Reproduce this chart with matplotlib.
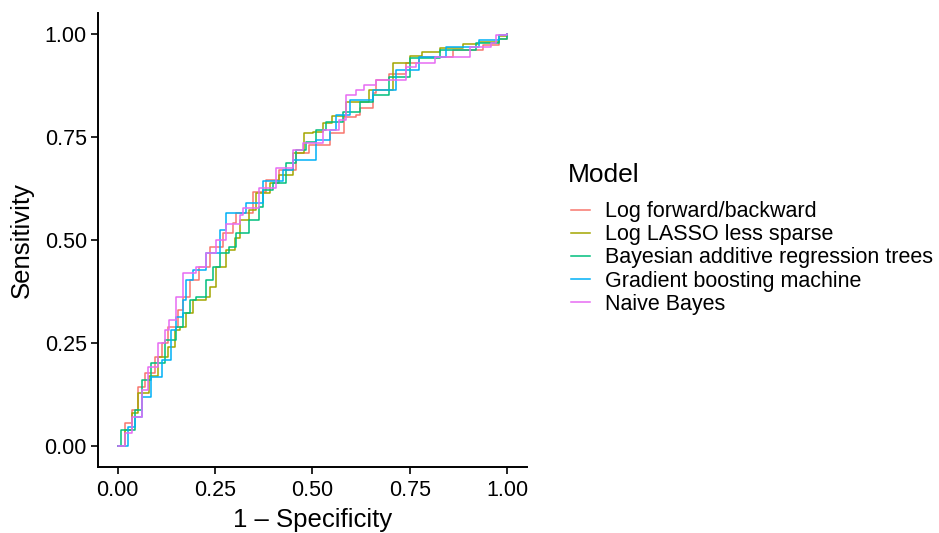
import matplotlib
matplotlib.use('Agg')
import matplotlib.pyplot as plt

plt.rcParams['font.family'] = ['Liberation Sans', 'DejaVu Sans']

# ROC curves: (1 - specificity, sensitivity)
models = ['Log forward/backward', 'Log LASSO less sparse',
          'Bayesian additive regression trees', 'Gradient boosting machine',
          'Naive Bayes']
colors = ['#F8766D', '#A3A500', '#00BF7D', '#00B0F6', '#E76BF3']

fpr_log_fb = [0, 0.019, 0.036, 0.053, 0.070, 0.096, 0.113, 0.130, 0.155, 0.168, 0.185,
              0.210, 0.236, 0.270, 0.296, 0.304, 0.347, 0.381, 0.415, 0.458, 0.492,
              0.544, 0.582, 0.612, 0.621, 0.655, 0.663, 0.697, 0.740, 0.774, 0.860,
              0.937, 0.979, 1.0]
tpr_log_fb = [0, 0.055, 0.087, 0.144, 0.176, 0.217, 0.249, 0.290, 0.330, 0.362, 0.403,
              0.435, 0.484, 0.516, 0.541, 0.565, 0.617, 0.646, 0.670, 0.710, 0.731,
              0.759, 0.799, 0.803, 0.820, 0.856, 0.888, 0.904, 0.929, 0.945, 0.961,
              0.973, 0.989, 1.0]

fpr_lasso = [0, 0.019, 0.036, 0.053, 0.080, 0.104, 0.130, 0.147, 0.159, 0.176, 0.193,
             0.227, 0.236, 0.253, 0.279, 0.300, 0.313, 0.338, 0.356, 0.390, 0.415,
             0.450, 0.479, 0.501, 0.526, 0.551, 0.586, 0.646, 0.706, 0.749, 0.782,
             0.826, 0.885, 0.928, 0.979, 1.0]
tpr_lasso = [0, 0.039, 0.079, 0.128, 0.170, 0.217, 0.241, 0.282, 0.290, 0.322, 0.354,
             0.362, 0.387, 0.435, 0.476, 0.504, 0.549, 0.573, 0.613, 0.638, 0.658,
             0.710, 0.759, 0.763, 0.783, 0.800, 0.836, 0.864, 0.929, 0.946, 0.957,
             0.965, 0.976, 0.981, 0.994, 1.0]

fpr_bart = [0, 0.010, 0.044, 0.062, 0.087, 0.121, 0.150, 0.168, 0.185, 0.202, 0.227,
            0.245, 0.262, 0.287, 0.304, 0.338, 0.364, 0.373, 0.398, 0.432, 0.458,
            0.484, 0.509, 0.535, 0.578, 0.621, 0.655, 0.697, 0.749, 0.826, 0.920,
            0.979, 1.0]
tpr_bart = [0, 0.039, 0.087, 0.160, 0.201, 0.257, 0.290, 0.322, 0.354, 0.362, 0.403,
            0.435, 0.468, 0.484, 0.516, 0.549, 0.581, 0.621, 0.638, 0.686, 0.718,
            0.739, 0.767, 0.787, 0.810, 0.836, 0.852, 0.896, 0.941, 0.961, 0.977,
            0.989, 1.0]

fpr_gbm = [0, 0.027, 0.044, 0.062, 0.087, 0.113, 0.138, 0.150, 0.168, 0.176, 0.193,
           0.227, 0.262, 0.279, 0.330, 0.373, 0.424, 0.450, 0.509, 0.544, 0.561,
           0.595, 0.655, 0.715, 0.774, 0.843, 0.928, 0.979, 1.0]
tpr_gbm = [0, 0.047, 0.071, 0.120, 0.168, 0.209, 0.282, 0.314, 0.354, 0.403, 0.427,
           0.468, 0.524, 0.565, 0.589, 0.642, 0.670, 0.694, 0.743, 0.767, 0.803,
           0.840, 0.864, 0.913, 0.945, 0.969, 0.985, 0.998, 1.0]

fpr_nb = [0, 0.019, 0.036, 0.062, 0.079, 0.104, 0.121, 0.133, 0.150, 0.168, 0.202,
          0.227, 0.253, 0.279, 0.313, 0.321, 0.364, 0.407, 0.450, 0.475, 0.526,
          0.569, 0.586, 0.612, 0.633, 0.663, 0.740, 0.766, 0.813, 0.903, 0.958,
          0.971, 1.0]
tpr_nb = [0, 0.031, 0.071, 0.136, 0.192, 0.249, 0.282, 0.306, 0.362, 0.419, 0.435,
          0.468, 0.500, 0.540, 0.561, 0.577, 0.625, 0.674, 0.718, 0.735, 0.767,
          0.791, 0.852, 0.864, 0.876, 0.888, 0.921, 0.929, 0.945, 0.969, 0.977,
          0.998, 1.0]

curves = [(fpr_log_fb, tpr_log_fb), (fpr_lasso, tpr_lasso), (fpr_bart, tpr_bart),
          (fpr_gbm, tpr_gbm), (fpr_nb, tpr_nb)]

fig = plt.figure(figsize=(9.39, 5.33), dpi=100)
ax = fig.add_axes([0.1044, 0.1246, 0.4568, 0.8503])

for name, col, (fx, ty) in zip(models, colors, curves):
    ax.plot(fx, ty, color=col, lw=1.1, drawstyle='steps-post', label=name)

ax.set_xlim(-0.05, 1.05)
ax.set_ylim(-0.05, 1.05)
ticks = [0, 0.25, 0.5, 0.75, 1.0]
ax.set_xticks(ticks)
ax.set_yticks(ticks)
ax.set_xticklabels(['0.00', '0.25', '0.50', '0.75', '1.00'])
ax.set_yticklabels(['0.00', '0.25', '0.50', '0.75', '1.00'])
ax.tick_params(length=5, width=1.2, labelsize=15.5, colors='black', pad=3)
ax.tick_params(axis='x', pad=5)
for s in ['top', 'right']:
    ax.spines[s].set_visible(False)
for s in ['left', 'bottom']:
    ax.spines[s].set_linewidth(1.4)
ax.set_xlabel('1 \u2013 Specificity', fontsize=18.5, labelpad=5)
ax.set_ylabel('Sensitivity', fontsize=18.5, labelpad=8)

# legend placed in figure coords, title drawn as separate text
leg = fig.legend(loc='center left', bbox_to_anchor=(571 / 939, 1 - 258 / 533),
                 frameon=False, fontsize=15.5, handlelength=0.9,
                 handletextpad=0.7, labelspacing=0.1, borderpad=0,
                 borderaxespad=0)
for h in leg.get_lines():
    h.set_linewidth(1.1)
fig.text(568 / 939, 1 - 175 / 533, 'Model', fontsize=19, va='center', ha='left')

fig.savefig('out.png', dpi=100)
